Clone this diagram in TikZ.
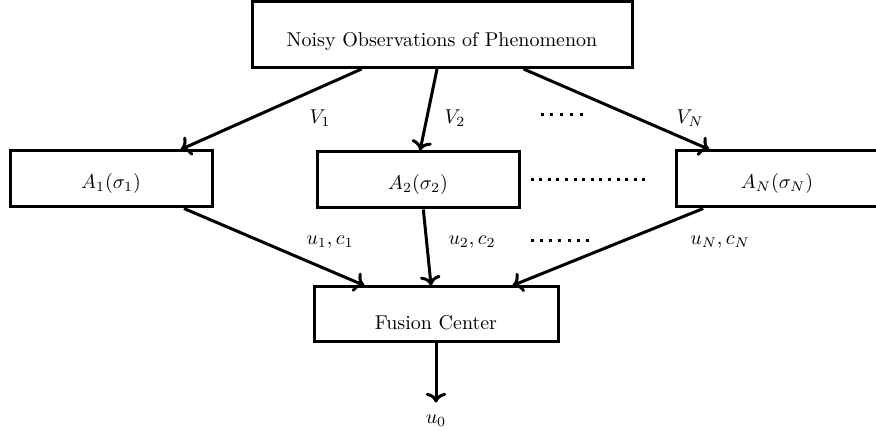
\documentclass[tikz,border=0pt]{standalone}
\usetikzlibrary{positioning, arrows.meta, calc}
\newcommand{\sunk}[2]{\raisebox{-#1}[\height][\depth]{#2}}

\begin{document}
\begin{tikzpicture}[x=0.5pt, y=-0.5pt,
    blockbox/.style={draw, line width=1.5pt, minimum width=101pt, minimum height=28pt},
    flow/.style={->, line width=1.5pt},
    dotrow/.style={line width=1.5pt, dash pattern=on 1.5pt off #1},
    dotrow/.default=3pt]
  \useasboundingbox (0,0) rectangle (876,431);
  % boxes
  \node[blockbox, minimum width=190pt, minimum height=33pt] (obs) at (442,34.5) {\sunk{3.5pt}{Noisy Observations of Phenomenon}};
  \node[blockbox] (a1) at (111,179) {\sunk{2.5pt}{$A_1(\sigma_1)$}};
  \node[blockbox] (a2) at (418,180) {\sunk{2.5pt}{$A_2(\sigma_2)$}};
  \node[blockbox] (aN) at (777,179) {\sunk{2.5pt}{$A_N(\sigma_N)$}};
  \node[blockbox, minimum width=122pt, minimum height=27.5pt] (fc) at (436,314.5) {\sunk{4pt}{Fusion Center}};
  \node[outer sep=3pt] (u0) at (436,421) {$u_0$};
  % labels
  \node (v1) at (320,118) {$V_1$};
  \node (v2) at (455,118) {$V_2$};
  \node (vN) at (690,118) {$V_N$};
  \node (uc1) at (330,242) {$u_1,c_1$};
  \node (uc2) at (472,242) {$u_2,c_2$};
  \node (ucN) at (720,242) {$u_N,c_N$};
  % observations to agents
  \draw[flow] ($(obs.south west)!0.29!(obs.south east)$) -- ($(a1.north west)!0.84!(a1.north east)$);
  \draw[flow] ($(obs.south west)!0.487!(obs.south east)$) -- ($(a2.north west)!0.51!(a2.north east)$);
  \draw[flow] ($(obs.south west)!0.713!(obs.south east)$) -- ($(aN.north west)!0.17!(aN.north east)$);
  % agents to fusion center
  \draw[flow] ($(a1.south west)!0.856!(a1.south east)$) -- ($(fc.north west)!0.21!(fc.north east)$);
  \draw[flow] ($(a2.south west)!0.526!(a2.south east)$) -- ($(fc.north west)!0.48!(fc.north east)$);
  \draw[flow] ($(aN.south west)!0.14!(aN.south east)$) -- ($(fc.north west)!0.81!(fc.north east)$);
  \draw[flow] (fc) -- (u0);
  % dots
  \coordinate (d1) at (540.5,115);
  \coordinate (d2) at (583,115);
  \coordinate (d3) at (530.5,180);
  \coordinate (d4) at (647,180);
  \coordinate (d5) at (530.5,241);
  \coordinate (d6) at (589.5,241);
  \draw[dotrow=3.4pt] (d1) -- (d2);
  \draw[dotrow=2.8pt] (d3) -- (d4);
  \draw[dotrow=3.15pt] (d5) -- (d6);
\end{tikzpicture}
\end{document}
